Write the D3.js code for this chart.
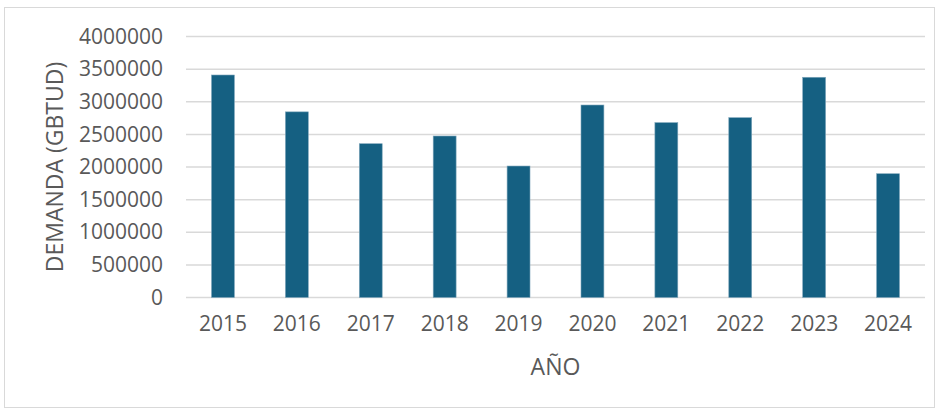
<!DOCTYPE html>
<html>
<head>
<meta charset="utf-8">
<script src="https://cdn.jsdelivr.net/npm/d3@7"></script>
<style>
  body { margin: 0; background: #fff; }
  text { font-family: "Open Sans", sans-serif; fill: #595959; }
</style>
</head>
<body>
<svg id="chart" width="940" height="412"></svg>
<script>
// demand per year
const years = ["2015", "2016", "2017", "2018", "2019", "2020", "2021", "2022", "2023", "2024"];
const demand = [3410000, 2845000, 2357000, 2475000, 2015000, 2950000, 2680000, 2756000, 3375000, 1897000];
const yTicks = [0, 500000, 1000000, 1500000, 2000000, 2500000, 3000000, 3500000, 4000000];

const svg = d3.select("#chart");
const margin = { top: 36.5, right: 15, bottom: 114.5, left: 186 };
const width = 940 - margin.left - margin.right;
const height = 412 - margin.top - margin.bottom;

// outer chart border
svg.append("rect")
    .attr("x", 4.5).attr("y", 7.5)
    .attr("width", 930).attr("height", 400)
    .attr("fill", "none").attr("stroke", "#d9d9d9").attr("stroke-width", 1);

const g = svg.append("g").attr("transform", `translate(${margin.left},${margin.top})`);

const x = d3.scaleBand().domain(years).range([0, width]).paddingInner(0.69).paddingOuter(0.345);
const y = d3.scaleLinear().domain([0, 4000000]).range([height, 0]);

// gridlines
g.selectAll("line.grid").data(yTicks).enter().append("line")
    .attr("class", "grid")
    .attr("x1", 0).attr("x2", width)
    .attr("y1", d => y(d)).attr("y2", d => y(d))
    .attr("stroke", "#d9d9d9").attr("stroke-width", 1.5);

// bars
g.selectAll("rect.bar").data(years).enter().append("rect")
    .attr("class", "bar")
    .attr("x", d => x(d))
    .attr("y", (d, i) => y(demand[i]))
    .attr("width", x.bandwidth())
    .attr("height", (d, i) => height - y(demand[i]))
    .attr("fill", "#156082")
    .attr("stroke", "#7fa6bb").attr("stroke-width", 0.6);

// y axis labels
const yAxis = g.append("g").call(d3.axisLeft(y).tickValues(yTicks).tickSize(0).tickPadding(23).tickFormat(d3.format("d")));
yAxis.select(".domain").remove();
yAxis.selectAll("text").style("font-size", "21px").attr("fill", "#595959").attr("font-family", "Open Sans");

// x axis labels
const xAxis = g.append("g").attr("transform", `translate(0,${height})`)
    .call(d3.axisBottom(x).tickSize(0).tickPadding(19));
xAxis.select(".domain").remove();
xAxis.selectAll("text").style("font-size", "21px").attr("fill", "#595959").attr("font-family", "Open Sans");

// axis titles
svg.append("text")
    .attr("x", margin.left + width / 2).attr("y", 375)
    .attr("text-anchor", "middle")
    .style("font-size", "23px")
    .text("AÑO");

svg.append("text")
    .attr("transform", `translate(63,${margin.top + height / 2}) rotate(-90)`)
    .attr("text-anchor", "middle")
    .style("font-size", "23px")
    .text("DEMANDA (GBTUD)");
</script>
</body>
</html>
